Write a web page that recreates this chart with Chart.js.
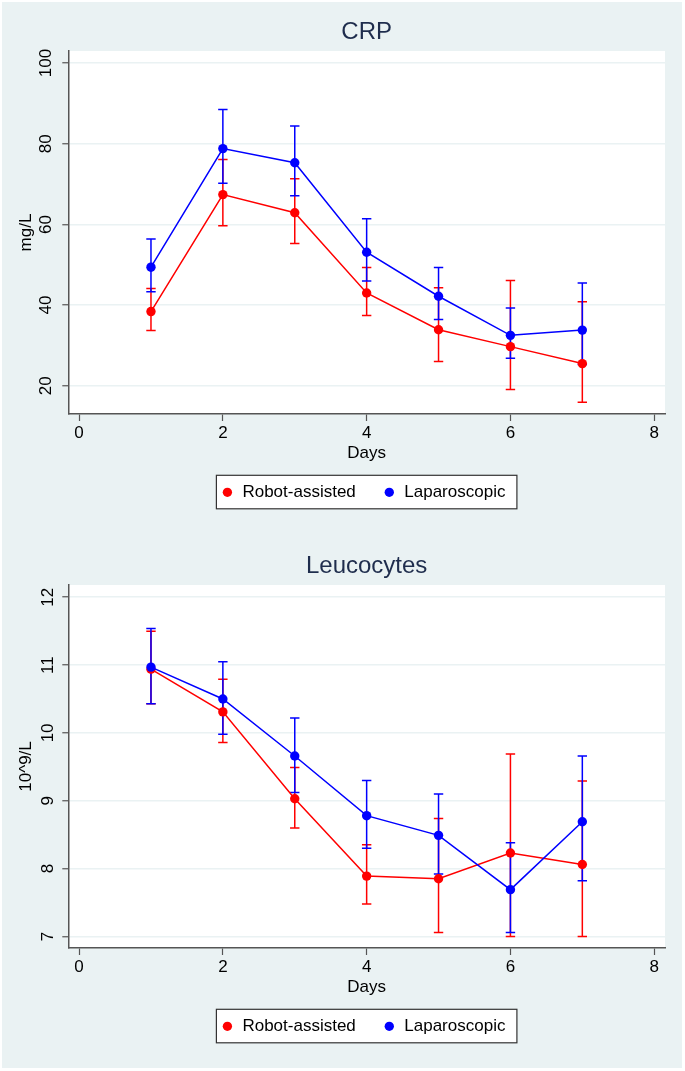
<!DOCTYPE html>
<html><head><meta charset="utf-8">
<script src="https://cdn.jsdelivr.net/npm/chart.js@4.4.1/dist/chart.umd.min.js"></script>
<style>
html,body{margin:0;padding:0;background:#fff;}
#bg{position:absolute;left:2px;top:2px;width:680px;height:1066px;background:#eaf2f3;}
canvas{position:absolute;left:0;}
#c1{top:0}
#c2{top:534px}
</style></head><body>
<div id="bg"></div>
<canvas id="c1" width="685" height="535"></canvas>
<canvas id="c2" width="685" height="537"></canvas>
<script>
// ---- data ----
const days = [1, 2, 3, 4, 5, 6, 7];
const dayTicks = [0, 2, 4, 6, 8];
const seriesNames = ['Robot-assisted', 'Laparoscopic'];

const crpYTicks = [20, 40, 60, 80, 100];
const crpRobot     = [38.4, 67.4, 62.9, 43.0, 33.9, 29.7, 25.5];
const crpRobotLow  = [33.7, 59.7, 55.3, 37.4, 26.0, 19.1, 15.9];
const crpRobotHigh = [44.1, 76.1, 71.3, 49.3, 44.3, 46.1, 40.8];
const crpLap       = [49.4, 78.8, 75.3, 53.1, 42.2, 32.5, 33.8];
const crpLapLow    = [43.3, 70.2, 67.1, 46.0, 36.4, 26.8, 25.3];
const crpLapHigh   = [56.4, 88.5, 84.4, 61.4, 49.3, 39.3, 45.5];

const leucYTicks = [7, 8, 9, 10, 11, 12];
const leucRobot     = [10.94, 10.31, 9.03, 7.89, 7.85, 8.23, 8.06];
const leucRobotLow  = [10.43, 9.86, 8.60, 7.48, 7.06, 7.00, 7.00];
const leucRobotHigh = [11.50, 10.79, 9.49, 8.35, 8.74, 9.69, 9.29];
const leucLap       = [10.97, 10.50, 9.66, 8.78, 8.49, 7.69, 8.69];
const leucLapLow    = [10.43, 9.98, 9.12, 8.30, 7.92, 7.06, 7.82];
const leucLapHigh   = [11.54, 11.05, 10.22, 9.30, 9.10, 8.38, 9.66];

// ---- styling ----
const FONT = '"Liberation Sans", Arial, Helvetica, sans-serif';
const RED = '#ff0000', BLUE = '#0000ff';
const AXIS = '#555555';

const legendShift = {
  id: 'legendShift',
  afterLayout(chart) {
    const lg = chart.legend;
    if (lg) { lg.left -= 3.5; lg.right -= 3.5; }
  }
};

const frame = {
  id: 'frame',
  beforeDraw(chart) {
    const {ctx, chartArea: a} = chart;
    ctx.save();
    ctx.fillStyle = '#ffffff';
    ctx.fillRect(a.left, a.top, a.right - a.left, a.bottom - a.top);
    const hb = chart.legend && chart.legend.legendHitBoxes;
    if (hb && hb.length) {
      const first = hb[0], last = hb[hb.length - 1];
      const cy = first.top + first.height / 2;
      const l = first.left - 4.5, r = last.left + last.width + 11.5;
      const t = cy - 17, b = cy + 16.5;
      ctx.fillRect(l, t, r - l, b - t);
      ctx.strokeStyle = '#333333';
      ctx.lineWidth = 1.2;
      ctx.strokeRect(l, t, r - l, b - t);
    }
    ctx.restore();
  }
};

const errorBars = {
  id: 'errorBars',
  beforeDatasetsDraw(chart) {
    const {ctx, scales: {x, y}} = chart;
    ctx.save();
    chart.data.datasets.forEach(ds => {
      ctx.strokeStyle = ds.borderColor;
      ctx.lineWidth = 1.5;
      ds.data.forEach((p, i) => {
        const px = x.getPixelForValue(p.x);
        const lo = y.getPixelForValue(ds.errLow[i]);
        const hi = y.getPixelForValue(ds.errHigh[i]);
        ctx.beginPath();
        ctx.moveTo(px, lo); ctx.lineTo(px, hi);
        ctx.moveTo(px - 4.7, lo); ctx.lineTo(px + 4.7, lo);
        ctx.moveTo(px - 4.7, hi); ctx.lineTo(px + 4.7, hi);
        ctx.stroke();
      });
    });
    ctx.restore();
  }
};

function makeChart(id, cfg) {
  const mk = (label, vals, lo, hi, color, order) => ({
    label, data: days.map((d, i) => ({x: d, y: vals[i]})),
    errLow: lo, errHigh: hi,
    borderColor: color, backgroundColor: color,
    pointBackgroundColor: color, pointBorderColor: color,
    order
  });
  return new Chart(document.getElementById(id), {
    type: 'line',
    data: {datasets: [
      mk(seriesNames[0], cfg.r, cfg.rLo, cfg.rHi, RED, 1),
      mk(seriesNames[1], cfg.l, cfg.lLo, cfg.lHi, BLUE, 0)
    ]},
    options: {
      responsive: false, animation: false,
      layout: {padding: {left: 0, right: 20, top: 0, bottom: cfg.padBottom}},
      elements: {
        line: {borderWidth: 1.5, tension: 0},
        point: {radius: 4.7, borderWidth: 0, hoverRadius: 4.7, hoverBorderWidth: 0}
      },
      scales: {
        x: {
          type: 'linear', min: -0.15, max: 8.15,
          afterBuildTicks: s => { s.ticks = dayTicks.map(v => ({value: v})); },
          afterFit: s => { s.height = 42.8; },
          grid: {drawOnChartArea: false, drawTicks: true, tickLength: 7, tickColor: AXIS, tickWidth: 1.2},
          border: {display: true, color: AXIS, width: 1.5},
          ticks: {font: {family: FONT, size: 17}, color: '#000', padding: 2.5, maxRotation: 0, autoSkip: false},
          title: {display: true, text: 'Days', font: {family: FONT, size: 17}, color: '#000', padding: {top: 0, bottom: -6.4}}
        },
        y: {
          type: 'linear', min: cfg.ymin, max: cfg.ymax,
          afterBuildTicks: s => { s.ticks = cfg.yticks.map(v => ({value: v})); },
          afterFit: s => { s.width = 68.3; },
          grid: {color: '#eaf2f3', lineWidth: 1.5, drawTicks: true, tickLength: 6, tickColor: AXIS, tickWidth: 1.2},
          border: {display: true, color: AXIS, width: 1.5},
          ticks: {font: {family: FONT, size: 17}, color: '#000', minRotation: 90, maxRotation: 90,
                  crossAlign: 'center', padding: cfg.ytickPad, autoSkip: false},
          title: {display: true, text: cfg.ytitle, font: {family: FONT, size: 17}, color: '#000', padding: {top: 15.8, bottom: 0}}
        }
      },
      plugins: {
        title: {display: true, text: cfg.title, font: {family: FONT, size: 24, weight: 'normal'},
                color: '#1f2d4d', padding: {top: 17.6, bottom: 4.6}, fullSize: false},
        legend: {display: true, position: 'bottom', fullSize: false,
                 labels: {usePointStyle: true, pointStyle: 'circle', boxWidth: 13, boxHeight: 6.6, padding: 27,
                          font: {family: FONT, size: 17}, color: '#000',
                          sort: (a, b) => a.datasetIndex - b.datasetIndex}},
        tooltip: {enabled: false}
      }
    },
    plugins: [legendShift, frame, errorBars]
  });
}

makeChart('c1', {
  title: 'CRP', ytitle: 'mg/L', ymin: 13, ymax: 103, yticks: crpYTicks, ytickPad: 1.6,
  r: crpRobot, rLo: crpRobotLow, rHi: crpRobotHigh,
  l: crpLap, lLo: crpLapLow, lHi: crpLapHigh, padBottom: 24.2
});
makeChart('c2', {
  title: 'Leucocytes', ytitle: '10^9/L', ymin: 6.83, ymax: 12.18, yticks: leucYTicks, ytickPad: 4.8,
  r: leucRobot, rLo: leucRobotLow, rHi: leucRobotHigh,
  l: leucLap, lLo: leucLapLow, lHi: leucLapHigh, padBottom: 26.2
});
</script>
</body></html>
